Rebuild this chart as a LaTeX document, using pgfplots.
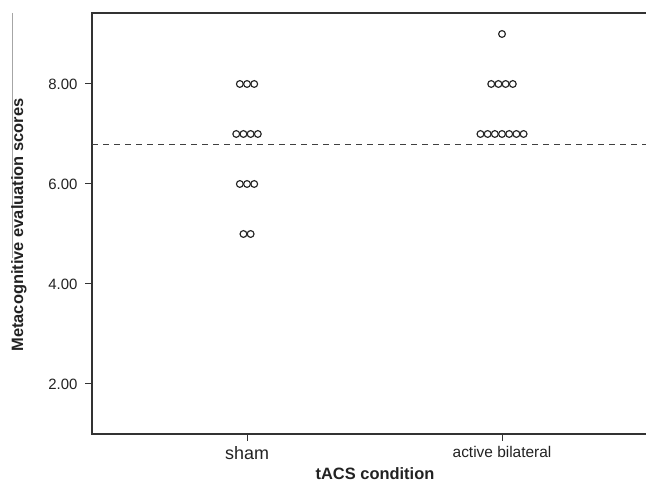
\documentclass[border=0pt]{standalone}
\usepackage{fontspec}
\setmainfont{Liberation Sans}
\usepackage{pgfplots}
\pgfplotsset{compat=1.18}
\definecolor{ink}{HTML}{222222}
\begin{document}
\begin{tikzpicture}[x=1bp,y=1bp]
\clip (0,0) rectangle (646,486);
\begin{axis}[
  at={(92bp,52bp)}, anchor=south west,
  width=554bp, height=421bp, scale only axis,
  xmin=-0.608, xmax=1.5647,
  ymin=1.0, ymax=9.42,
  xtick={0,1},
  xticklabels={{\fontsize{18}{20}\selectfont sham},{\fontsize{15.5}{18}\selectfont active bilateral}},
  ytick={2,4,6,8},
  /pgf/number format/fixed,
  /pgf/number format/fixed zerofill,
  /pgf/number format/precision=2,
  /pgf/number format/assume math mode=true,
  yticklabel style={font=\fontsize{15}{17}\selectfont, text=ink, xshift=-4bp},
  xticklabel style={text=ink, anchor=north, yshift=-2bp},
  tick align=outside,
  major tick length=7bp,
  xtick pos=bottom, ytick pos=left,
  tick style={color=black!80, line width=1bp},
  axis line style={draw=none},
  clip=false,
]
\draw[line width=1.1bp, color=black!80] (rel axis cs:1,1) -- (rel axis cs:0,1) -- (rel axis cs:0,0) -- (rel axis cs:1,0);
\addplot[only marks, mark=o, mark size=3.4bp, mark options={line width=1.15bp, color=black!85}] coordinates {
  (-0.0282,8) (0,8) (0.0282,8)
  (-0.0423,7) (-0.0141,7) (0.0141,7) (0.0423,7)
  (-0.0282,6) (0,6) (0.0282,6)
  (-0.0141,5) (0.0141,5)
};
\addplot[only marks, mark=o, mark size=3.4bp, mark options={line width=1.15bp, color=black!85}] coordinates {
  (1,9)
  (0.9577,8) (0.9859,8) (1.0141,8) (1.0423,8)
  (0.9154,7) (0.9436,7) (0.9718,7) (1,7) (1.0282,7) (1.0564,7) (1.0846,7)
};
\addplot[line width=1bp, color=black!75, dash pattern=on 6bp off 5bp] coordinates {(-0.608,6.78) (1.5647,6.78)};
\end{axis}
\draw[gray!70, line width=0.8bp] (12,473) -- (12,228);
\node[rotate=90, anchor=center, text=ink, font=\bfseries\fontsize{16.5}{18}\selectfont] at (19,261) {Metacognitive evaluation scores};
\node[anchor=base, inner sep=0pt, text=ink, font=\bfseries\fontsize{16.5}{18}\selectfont] at (375,6) {tACS condition};
\end{tikzpicture}
\end{document}
